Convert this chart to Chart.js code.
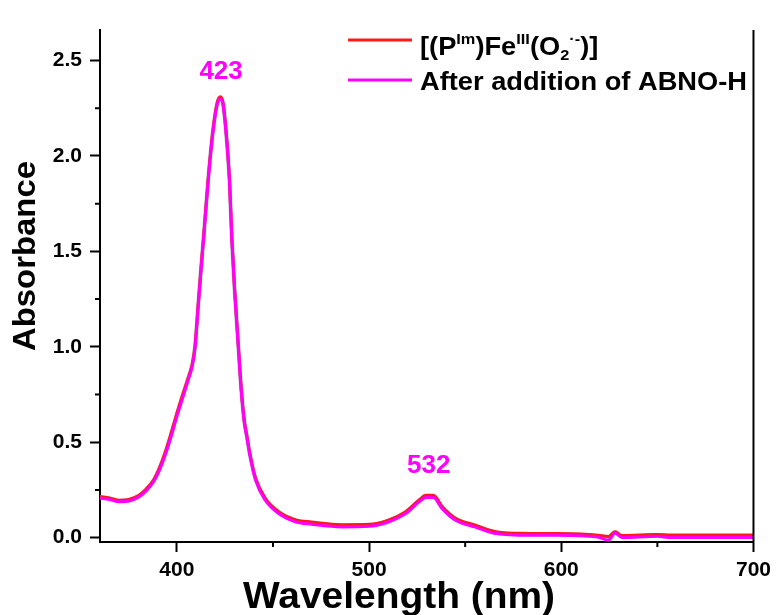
<!DOCTYPE html>
<html>
<head>
<meta charset="utf-8">
<script src="https://cdn.jsdelivr.net/npm/chart.js@4.4.1/dist/chart.umd.min.js"></script>
<style>
  html, body { margin: 0; padding: 0; background: #fff; }
  #wrap { width: 777px; height: 615px; }
</style>
</head>
<body>
<div id="wrap"><canvas id="uvvis" width="777" height="615"></canvas></div>
<script>
// wavelengths (nm)
const wavelengths = [360, 365, 370, 375, 380, 384, 388, 391, 394, 397, 400, 402, 404, 406, 408, 409.5, 411, 412.7, 414, 416.2, 418.7, 421, 422.6, 424, 425.6, 427.4, 428.6, 430, 431.7, 433.5, 435, 436.5, 438, 441, 446, 453, 462, 470, 486, 500, 510, 519, 526, 529.5, 533.5, 538, 545, 555, 566, 583, 598, 619, 624.5, 628, 631.5, 650, 657, 700];

// after addition of ABNO-H (magenta, on top)
const afterAbnoH = [0.208, 0.200, 0.188, 0.192, 0.212, 0.245, 0.295, 0.355, 0.435, 0.53, 0.635, 0.70, 0.765, 0.83, 0.90, 1.0, 1.20, 1.42, 1.58, 1.86, 2.12, 2.27, 2.30, 2.27, 2.12, 1.86, 1.56, 1.30, 1.04, 0.77, 0.61, 0.52, 0.43, 0.30, 0.196, 0.126, 0.082, 0.07, 0.056, 0.059, 0.082, 0.126, 0.187, 0.21, 0.21, 0.152, 0.091, 0.056, 0.021, 0.012, 0.012, 0.003, -0.014, 0.024, 0.0, 0.007, 0.0, 0.0];

// superoxo complex (red, underneath)
const superoxo = [0.215, 0.208, 0.196, 0.2, 0.22, 0.255, 0.305, 0.368, 0.45, 0.548, 0.652, 0.718, 0.78, 0.842, 0.91, 1.01, 1.21, 1.43, 1.59, 1.87, 2.13, 2.28, 2.31, 2.28, 2.13, 1.87, 1.57, 1.31, 1.05, 0.78, 0.62, 0.53, 0.44, 0.31, 0.206, 0.136, 0.093, 0.082, 0.068, 0.07, 0.092, 0.136, 0.197, 0.222, 0.222, 0.163, 0.101, 0.066, 0.031, 0.022, 0.021, 0.013, 0.006, 0.031, 0.011, 0.016, 0.014, 0.014];

// grey intermediate trace
const intermediate = [0.212, 0.204, 0.192, 0.196, 0.216, 0.25, 0.3, 0.362, 0.443, 0.54, 0.644, 0.71, 0.773, 0.836, 0.905, 1.005, 1.205, 1.425, 1.585, 1.865, 2.125, 2.275, 2.305, 2.275, 2.125, 1.865, 1.565, 1.305, 1.045, 0.775, 0.615, 0.525, 0.435, 0.305, 0.201, 0.131, 0.088, 0.077, 0.063, 0.065, 0.087, 0.131, 0.192, 0.216, 0.216, 0.158, 0.096, 0.061, 0.026, 0.017, 0.017, 0.008, 0.0, 0.028, 0.006, 0.012, 0.008, 0.008];

const peakLabels = [
    { text: '423', x: 423, y: 2.44 },
    { text: '532', x: 531, y: 0.375 }
];

const xMajor = [400, 500, 600, 700];
const xMinor = [450, 550, 650];
const yMajor = [0, 0.5, 1, 1.5, 2, 2.5];
const yMinor = [0.25, 0.75, 1.25, 1.75, 2.25];

const FONT = "'Liberation Sans', Arial, sans-serif";

function pts(ys) {
    return wavelengths.map((w, i) => ({ x: w, y: ys[i] }));
}

// draws text squeezed/stretched to a given width
function fitText(ctx, text, cx, cy, width) {
    const w = ctx.measureText(text).width;
    ctx.save();
    ctx.translate(cx, cy);
    ctx.scale(width / w, 1);
    ctx.fillText(text, 0, 0);
    ctx.restore();
}

// extra drawing: minor ticks, right frame line, titles, peak labels, legend with super/subscripts
const extras = {
    id: 'extras',
    afterDraw(chart) {
        const ctx = chart.ctx;
        const xs = chart.scales.x, ys = chart.scales.y;
        const a = chart.chartArea;
        ctx.save();
        ctx.strokeStyle = '#000';
        ctx.lineWidth = 2;
        // right frame
        ctx.beginPath();
        ctx.moveTo(a.right, a.top);
        ctx.lineTo(a.right, a.bottom + 1);
        ctx.stroke();
        // minor ticks
        ctx.beginPath();
        xMinor.forEach(v => {
            const px = xs.getPixelForValue(v);
            ctx.moveTo(px, a.bottom);
            ctx.lineTo(px, a.bottom + 5);
        });
        yMinor.forEach(v => {
            const py = ys.getPixelForValue(v);
            ctx.moveTo(a.left, py);
            ctx.lineTo(a.left - 5, py);
        });
        ctx.stroke();

        // axis titles
        ctx.fillStyle = '#000';
        ctx.textAlign = 'center';
        ctx.textBaseline = 'middle';
        ctx.font = 'bold 36px ' + FONT;
        fitText(ctx, 'Wavelength (nm)', 399, 598, 312);
        ctx.save();
        ctx.translate(26, 256);
        ctx.rotate(-Math.PI / 2);
        ctx.font = 'bold 32px ' + FONT;
        fitText(ctx, 'Absorbance', 0, 0, 190);
        ctx.restore();

        // peak labels
        ctx.fillStyle = '#ff00ff';
        ctx.font = 'bold 26px ' + FONT;
        peakLabels.forEach(p => {
            ctx.fillText(p.text, xs.getPixelForValue(p.x), ys.getPixelForValue(p.y));
        });

        // legend
        const ds = chart.data.datasets;
        const lx0 = 348, lx1 = 412, tx = 420;
        const rows = [
            { ds: ds[1], lineY: 40, base: 55 },
            { ds: ds[2], lineY: 80, base: 90 }
        ];
        rows.forEach(r => {
            ctx.strokeStyle = r.ds.borderColor;
            ctx.lineWidth = 3;
            ctx.beginPath();
            ctx.moveTo(lx0, r.lineY);
            ctx.lineTo(lx1, r.lineY);
            ctx.stroke();
        });
        ctx.fillStyle = '#000';
        ctx.textAlign = 'left';
        ctx.textBaseline = 'alphabetic';
        const big = 'bold 25px ' + FONT, small = 'bold 15px ' + FONT;
        const sx = 1.09; // glyphs in the picture are a bit wider than tall
        // row 1: [(P^Im)Fe^III(O2^·-)]
        const parts = [
            ['[(P', big, 0], ['Im', small, -11], [')Fe', big, 0], ['III', small, -11],
            ['(O', big, 0], ['2', small, 5], ['\u00b7-', small, -11], [')]', big, 0]
        ];
        ctx.save();
        ctx.translate(tx, 0);
        ctx.scale(sx, 1);
        let x = 0;
        parts.forEach(p => {
            ctx.font = p[1];
            ctx.fillText(p[0], x, rows[0].base + p[2]);
            x += ctx.measureText(p[0]).width;
        });
        ctx.font = big;
        ctx.fillText(ds[2].label, 0, rows[1].base);
        ctx.restore();
        ctx.restore();
    }
};

new Chart(document.getElementById('uvvis'), {
    type: 'line',
    data: {
        datasets: [
            { label: 'intermediate', data: pts(intermediate), borderColor: '#b4b4b4', borderWidth: 4, order: 3 },
            { label: '[(P^Im)Fe^III(O2·-)]', data: pts(superoxo), borderColor: '#ff1a1a', borderWidth: 3, order: 2 },
            { label: 'After addition of ABNO-H', data: pts(afterAbnoH), borderColor: '#ff00ff', borderWidth: 3, order: 1 }
        ]
    },
    options: {
        responsive: false,
        animation: false,
        events: [],
        elements: {
            point: { radius: 0 },
            line: { cubicInterpolationMode: 'monotone', fill: false }
        },
        layout: { padding: { top: 30, right: 22, left: 0, bottom: 0 } },
        plugins: {
            legend: { display: false },
            tooltip: { enabled: false }
        },
        scales: {
            x: {
                type: 'linear',
                min: 360,
                max: 700,
                afterBuildTicks: s => { s.ticks = xMajor.map(v => ({ value: v })); },
                afterFit: s => { s.height = 73; },
                border: { color: '#000', width: 2 },
                grid: { drawOnChartArea: false, tickLength: 10, tickWidth: 2, tickColor: '#000' },
                ticks: { color: '#000', padding: 6, font: { family: FONT, size: 21, weight: 'bold' } }
            },
            y: {
                min: -0.023,
                max: 2.66,
                afterBuildTicks: s => { s.ticks = yMajor.map(v => ({ value: v })); },
                afterFit: s => { s.width = 100; },
                border: { color: '#000', width: 2 },
                grid: { drawOnChartArea: false, tickLength: 10, tickWidth: 2, tickColor: '#000' },
                ticks: {
                    color: '#000',
                    padding: 8,
                    font: { family: FONT, size: 21, weight: 'bold' },
                    callback: v => v.toFixed(1)
                }
            }
        }
    },
    plugins: [extras]
});
</script>
</body>
</html>
